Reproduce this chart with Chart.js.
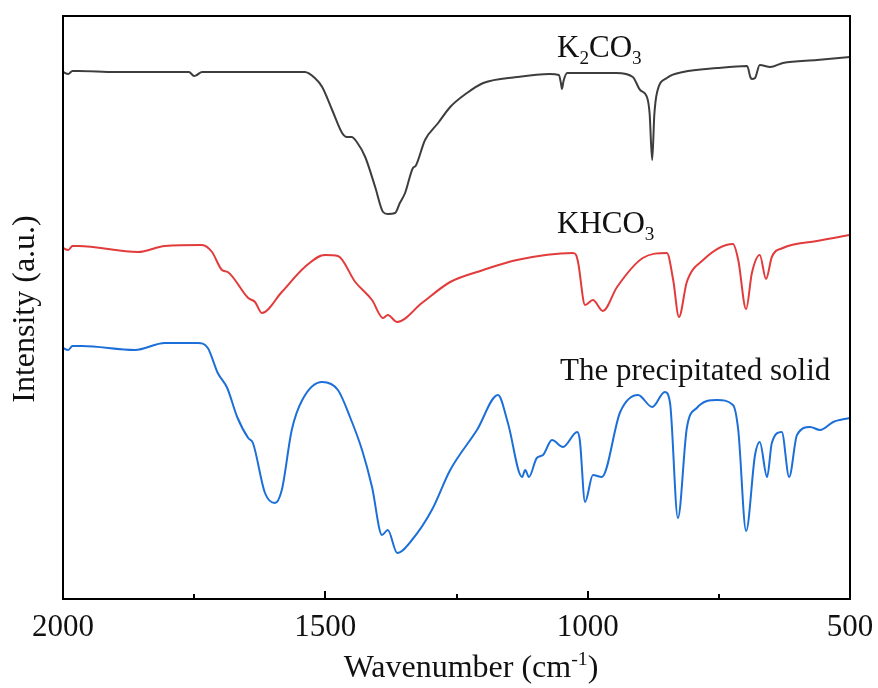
<!DOCTYPE html>
<html>
<head>
<meta charset="utf-8">
<script src="https://cdn.jsdelivr.net/npm/chart.js@4.4.1/dist/chart.umd.min.js"></script>
<style>
  body { margin: 0; background: #fff; }
  #wrap { width: 878px; height: 688px; }
</style>
</head>
<body>
<div id="wrap"><canvas id="ftirChart" width="878" height="688"></canvas></div>
<script>
// FTIR spectra, values (intensity in arbitrary units, curves offset)
const k2co3Wave = [2000, 1990, 1982, 1971, 1900, 1760, 1750, 1745, 1735, 1600, 1539, 1520, 1506, 1487, 1468, 1459, 1450, 1440, 1424, 1405, 1390, 1381, 1367, 1358, 1348, 1333, 1328, 1310, 1285, 1262, 1230, 1199, 1135, 1072, 1055, 1051, 1049, 1046, 1039, 945, 914, 900, 887, 882, 877, 873, 868, 849, 818, 753, 696, 690, 687, 681, 672, 652, 628, 563, 500];
const k2co3Int  = [527, 525, 528, 528, 527, 527, 523, 524, 527, 527, 527, 521, 512, 489, 466, 462, 462, 457, 442, 412, 387, 385, 386, 396, 406, 431, 433, 459, 476, 492, 506, 516, 522, 525, 524, 516, 510, 518, 526, 526, 522, 509, 502, 486, 439, 484, 506, 521, 527, 531, 533, 522, 520, 521, 534, 532, 536, 539, 542];

const khco3Wave = [2000, 1990, 1982, 1971, 1857, 1806, 1735, 1716, 1697, 1686, 1647, 1634, 1621, 1583, 1539, 1501, 1476, 1443, 1411, 1390, 1381, 1363, 1316, 1262, 1199, 1135, 1028, 1022, 1018, 1005, 990, 971, 944, 895, 849, 837, 826, 811, 780, 723, 713, 698, 687, 672, 660, 649, 628, 563, 500];
const khco3Int  = [351, 349, 353, 353, 347, 353, 354, 347, 329, 327, 301, 297, 286, 307, 332, 344, 343, 317, 299, 281, 284, 277, 296, 317, 329, 339, 346, 344, 336, 294, 299, 288, 312, 341, 346, 319, 282, 317, 339, 355, 339, 290, 326, 344, 320, 342, 351, 358, 364];

const solidWave = [2000, 1990, 1982, 1964, 1863, 1806, 1743, 1724, 1705, 1687, 1668, 1647, 1638, 1615, 1596, 1583, 1564, 1544, 1506, 1476, 1453, 1430, 1411, 1392, 1381, 1363, 1335, 1297, 1262, 1211, 1171, 1152, 1125, 1119, 1112, 1097, 1085, 1068, 1047, 1020, 1015, 1005, 990, 973, 938, 904, 877, 853, 843, 828, 811, 792, 753, 723, 713, 698, 681, 672, 658, 649, 630, 616, 601, 576, 557, 532, 500];
const solidInt  = [251, 249, 253, 253, 249, 256, 256, 251, 226, 211, 182, 161, 156, 106, 96, 109, 169, 199, 217, 209, 182, 149, 112, 64, 69, 46, 59, 89, 129, 169, 204, 176, 122, 129, 122, 141, 144, 159, 152, 167, 159, 97, 124, 122, 187, 204, 192, 207, 196, 81, 171, 191, 199, 194, 169, 68, 144, 157, 122, 156, 167, 122, 164, 172, 169, 177, 181];

const seriesNames = ['K2CO3', 'KHCO3', 'The precipitated solid'];
const seriesColors = ['#3d3d3d', '#e23b3b', '#1c6fd8'];
const xTicks = [2000, 1500, 1000, 500];
const xMinorTicks = [1750, 1250, 750];

function toPoints(wave, inten) {
    return wave.map((w, i) => ({ x: w, y: inten[i] }));
}

const FONT = 'Liberation Serif, Times New Roman, serif';

// draws text made of plain / sub / sup parts
function drawRich(ctx, parts, x, y, size, align) {
    const widths = parts.map(p => {
        ctx.font = (p.sub || p.sup ? size * 0.62 : size) + 'px ' + FONT;
        return ctx.measureText(p.t).width;
    });
    const total = widths.reduce((a, b) => a + b, 0);
    let cx = align === 'center' ? x - total / 2 : x;
    parts.forEach((p, i) => {
        ctx.font = (p.sub || p.sup ? size * 0.62 : size) + 'px ' + FONT;
        let dy = 0;
        if (p.sub) dy = size * 0.22;
        if (p.sup) dy = -size * 0.38;
        ctx.fillText(p.t, cx, y + dy);
        cx += widths[i];
    });
}

const frameAndLabels = {
    id: 'frameAndLabels',
    afterDraw(chart) {
        const ctx = chart.ctx;
        const area = chart.chartArea;
        const xs = chart.scales.x;
        ctx.save();
        ctx.strokeStyle = '#000';
        ctx.lineWidth = 2;
        ctx.strokeRect(area.left, area.top, area.right - area.left, area.bottom - area.top);

        // inward ticks on the bottom axis
        ctx.beginPath();
        xTicks.forEach(v => {
            const px = Math.round(xs.getPixelForValue(v));
            ctx.moveTo(px, area.bottom);
            ctx.lineTo(px, area.bottom - 8);
        });
        xMinorTicks.forEach(v => {
            const px = Math.round(xs.getPixelForValue(v));
            ctx.moveTo(px, area.bottom);
            ctx.lineTo(px, area.bottom - 5);
        });
        ctx.stroke();

        ctx.fillStyle = '#111';
        ctx.textBaseline = 'alphabetic';
        ctx.textAlign = 'left';

        // curve labels
        drawRich(ctx, [{ t: 'K' }, { t: '2', sub: true }, { t: 'CO' }, { t: '3', sub: true }], 557, 57, 31, 'left');
        drawRich(ctx, [{ t: 'KHCO' }, { t: '3', sub: true }], 557, 233, 31, 'left');
        drawRich(ctx, [{ t: 'The precipitated solid' }], 560, 380, 31, 'left');

        // x axis title
        drawRich(ctx, [{ t: 'Wavenumber (cm' }, { t: '-1', sup: true }, { t: ')' }], 471, 677, 32, 'center');

        // y axis title
        ctx.translate(34, 309);
        ctx.rotate(-Math.PI / 2);
        drawRich(ctx, [{ t: 'Intensity (a.u.)' }], 0, 0, 32, 'center');
        ctx.restore();
    }
};

const datasets = [
    toPoints(k2co3Wave, k2co3Int),
    toPoints(khco3Wave, khco3Int),
    toPoints(solidWave, solidInt)
].map((pts, i) => ({
    label: seriesNames[i],
    data: pts,
    borderColor: seriesColors[i],
    backgroundColor: seriesColors[i],
    borderWidth: 2,
    pointRadius: 0,
    fill: false,
    cubicInterpolationMode: 'monotone',
    borderJoinStyle: 'round'
}));

new Chart(document.getElementById('ftirChart').getContext('2d'), {
    type: 'line',
    data: { datasets: datasets },
    options: {
        responsive: false,
        animation: false,
        layout: { padding: { left: 63, right: 28, top: 16, bottom: 0 } },
        plugins: {
            legend: { display: false },
            tooltip: { enabled: false }
        },
        scales: {
            x: {
                type: 'linear',
                reverse: true,
                min: 500,
                max: 2000,
                afterBuildTicks: axis => { axis.ticks = xTicks.map(v => ({ value: v })); },
                afterFit: axis => {
                    axis.height = 89;
                    axis.paddingLeft = 0;
                    axis.paddingRight = 0;
                },
                grid: { display: false, drawTicks: false },
                border: { display: false },
                ticks: {
                    font: { family: FONT, size: 31 },
                    color: '#111',
                    padding: 10,
                    maxRotation: 0,
                    callback: value => String(value)
                }
            },
            y: {
                display: false,
                min: 0,
                max: 583
            }
        }
    },
    plugins: [frameAndLabels]
});
</script>
</body>
</html>
